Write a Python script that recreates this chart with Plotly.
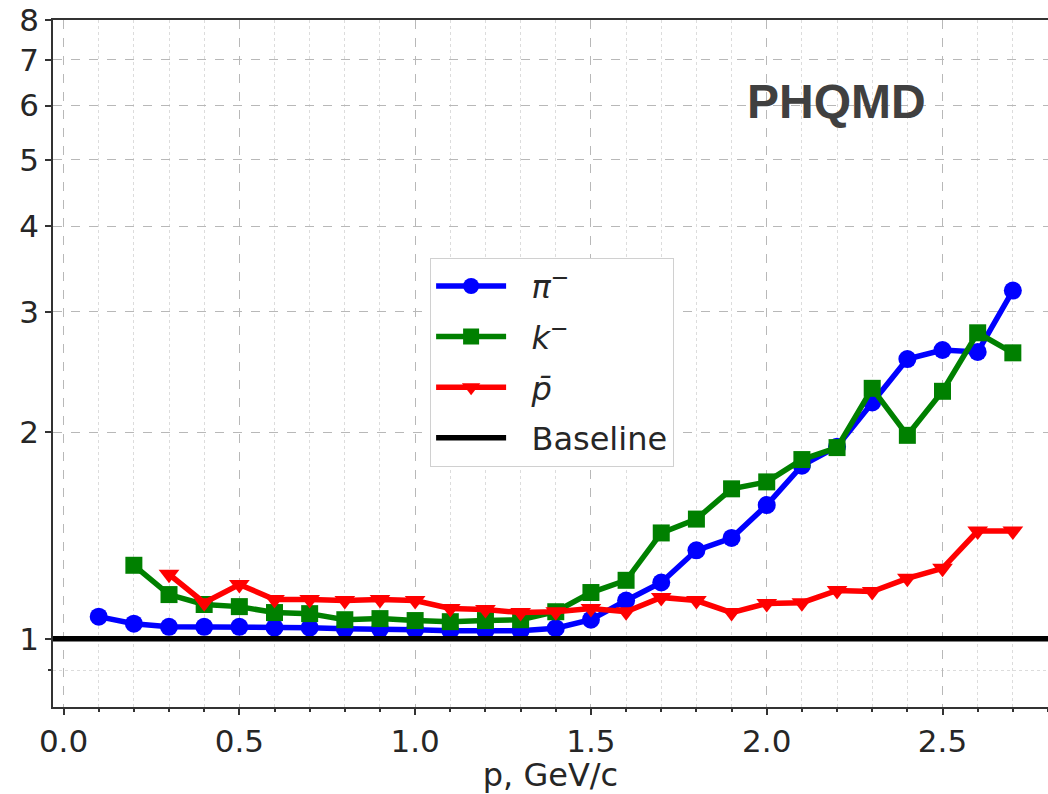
import math
import plotly.graph_objects as go

# ---- data ----
p_pi = [0.1, 0.2, 0.3, 0.4, 0.5, 0.6, 0.7, 0.8, 0.9, 1.0, 1.1, 1.2, 1.3, 1.4,
        1.5, 1.6, 1.7, 1.8, 1.9, 2.0, 2.1, 2.2, 2.3, 2.4, 2.5, 2.6, 2.7]
ratio_pi = [1.077, 1.052, 1.041, 1.041, 1.041, 1.038, 1.038, 1.034, 1.034, 1.031,
            1.027, 1.027, 1.027, 1.036, 1.066, 1.137, 1.208, 1.346, 1.403, 1.567,
            1.789, 1.907, 2.213, 2.560, 2.639, 2.622, 3.222]

p_k = [0.2, 0.3, 0.4, 0.5, 0.6, 0.7, 0.8, 0.9, 1.0, 1.1, 1.2, 1.3, 1.4,
       1.5, 1.6, 1.7, 1.8, 1.9, 2.0, 2.1, 2.2, 2.3, 2.4, 2.5, 2.6, 2.7]
ratio_k = [1.280, 1.160, 1.122, 1.114, 1.092, 1.088, 1.066, 1.070, 1.063, 1.059,
           1.063, 1.066, 1.095, 1.168, 1.217, 1.427, 1.495, 1.655, 1.694, 1.826,
           1.901, 2.320, 1.981, 2.297, 2.796, 2.614]

p_pbar = [0.3, 0.4, 0.5, 0.6, 0.7, 0.8, 0.9, 1.0, 1.1, 1.2, 1.3, 1.4,
          1.5, 1.6, 1.7, 1.8, 1.9, 2.0, 2.1, 2.2, 2.3, 2.4, 2.5, 2.6, 2.7]
ratio_pbar = [1.242, 1.129, 1.200, 1.141, 1.141, 1.137, 1.141, 1.137, 1.107, 1.103,
              1.092, 1.095, 1.107, 1.095, 1.149, 1.137, 1.092, 1.126, 1.129, 1.176,
              1.172, 1.225, 1.267, 1.436, 1.436]

baseline_value = 1.0
x_range = [-0.03, 2.80]
y_range = [0.795, 8.0]
y_ticks = [1, 2, 3, 4, 5, 6, 7, 8]
y_minor = [0.9]

pad = "\u00a0\u00a0"
series_names = [pad + "<i>π</i><sup>−</sup>", pad + "<i>k</i><sup>−</sup>",
                pad + "<i>p̄</i>", pad + "Baseline"]

# ---- figure ----
fig = go.Figure()
fig.add_trace(go.Scatter(x=p_pi, y=ratio_pi, mode="lines+markers", name=series_names[0],
                         legendgroup="g1",
                         line=dict(color="#0000ff", width=5.5),
                         marker=dict(symbol="circle", size=18, color="#0000ff")))
fig.add_trace(go.Scatter(x=p_k, y=ratio_k, mode="lines+markers", name=series_names[1],
                         legendgroup="g2",
                         line=dict(color="#008000", width=5.5),
                         marker=dict(symbol="square", size=17, color="#008000")))
fig.add_trace(go.Scatter(x=p_pbar, y=ratio_pbar, mode="lines+markers", name=series_names[2],
                         legendgroup="g3",
                         line=dict(color="#ff0000", width=5.5),
                         marker=dict(symbol="triangle-down", size=18, color="#ff0000")))
fig.add_trace(go.Scatter(x=x_range, y=[baseline_value, baseline_value], mode="lines",
                         legendgroup="g4",
                         name=series_names[3], line=dict(color="#000000", width=5.5)))

tick_font = dict(family="DejaVu Sans", size=31, color="#262626")
title_font = dict(family="DejaVu Sans", size=32, color="#262626")

fig.update_layout(
    width=1048, height=794,
    margin=dict(l=53, r=0, t=20, b=87),
    paper_bgcolor="white", plot_bgcolor="white",
    font=dict(family="DejaVu Sans", color="#262626"),
    legend=dict(x=0.379, y=0.654, xanchor="left", yanchor="top",
                bgcolor="white", bordercolor="#d0d0d0", borderwidth=1,
                itemwidth=70, tracegroupgap=6,
                font=dict(family="DejaVu Sans", size=32, color="#262626")),
    xaxis=dict(range=x_range, tick0=0, dtick=0.5, tickformat=".1f", automargin=False,
               ticks="outside", ticklen=6, tickwidth=1.5, tickcolor="#333",
               showline=True, linecolor="#333", linewidth=1.5, mirror=True,
               showgrid=True, gridcolor="#b8b8b8", griddash="dash", gridwidth=1,
               zeroline=False, tickfont=tick_font,
               title=dict(text="p, GeV/c", font=title_font, standoff=6),
               minor=dict(dtick=0.1, tick0=0, ticks="outside", ticklen=3,
                          tickcolor="#333", showgrid=True, gridcolor="#dcdcdc",
                          griddash="dot", gridwidth=1)),
    yaxis=dict(type="log", range=[math.log10(y_range[0]), math.log10(y_range[1])],
               automargin=False,
               tickmode="array", tickvals=y_ticks, ticktext=[str(v) for v in y_ticks],
               ticks="outside", ticklen=6, tickwidth=1.5, tickcolor="#333",
               showline=True, linecolor="#333", linewidth=1.5, mirror=True,
               showgrid=True, gridcolor="#b8b8b8", griddash="dash", gridwidth=1,
               zeroline=False, tickfont=tick_font,
               minor=dict(tickmode="array", tickvals=y_minor, ticks="outside", ticklen=3,
                          tickcolor="#333", showgrid=True, gridcolor="#dcdcdc",
                          griddash="dot", gridwidth=1)),
)

fig.add_annotation(text="<b>PHQMD</b>", xref="paper", yref="paper",
                   x=0.787, y=0.882, xanchor="center", yanchor="middle",
                   showarrow=False,
                   font=dict(family="Liberation Sans", size=48, color="#404040"))

fig.write_html("out.html", config={"displayModeBar": False},
               post_script="document.body.style.margin='0';document.body.style.overflow='hidden';")
